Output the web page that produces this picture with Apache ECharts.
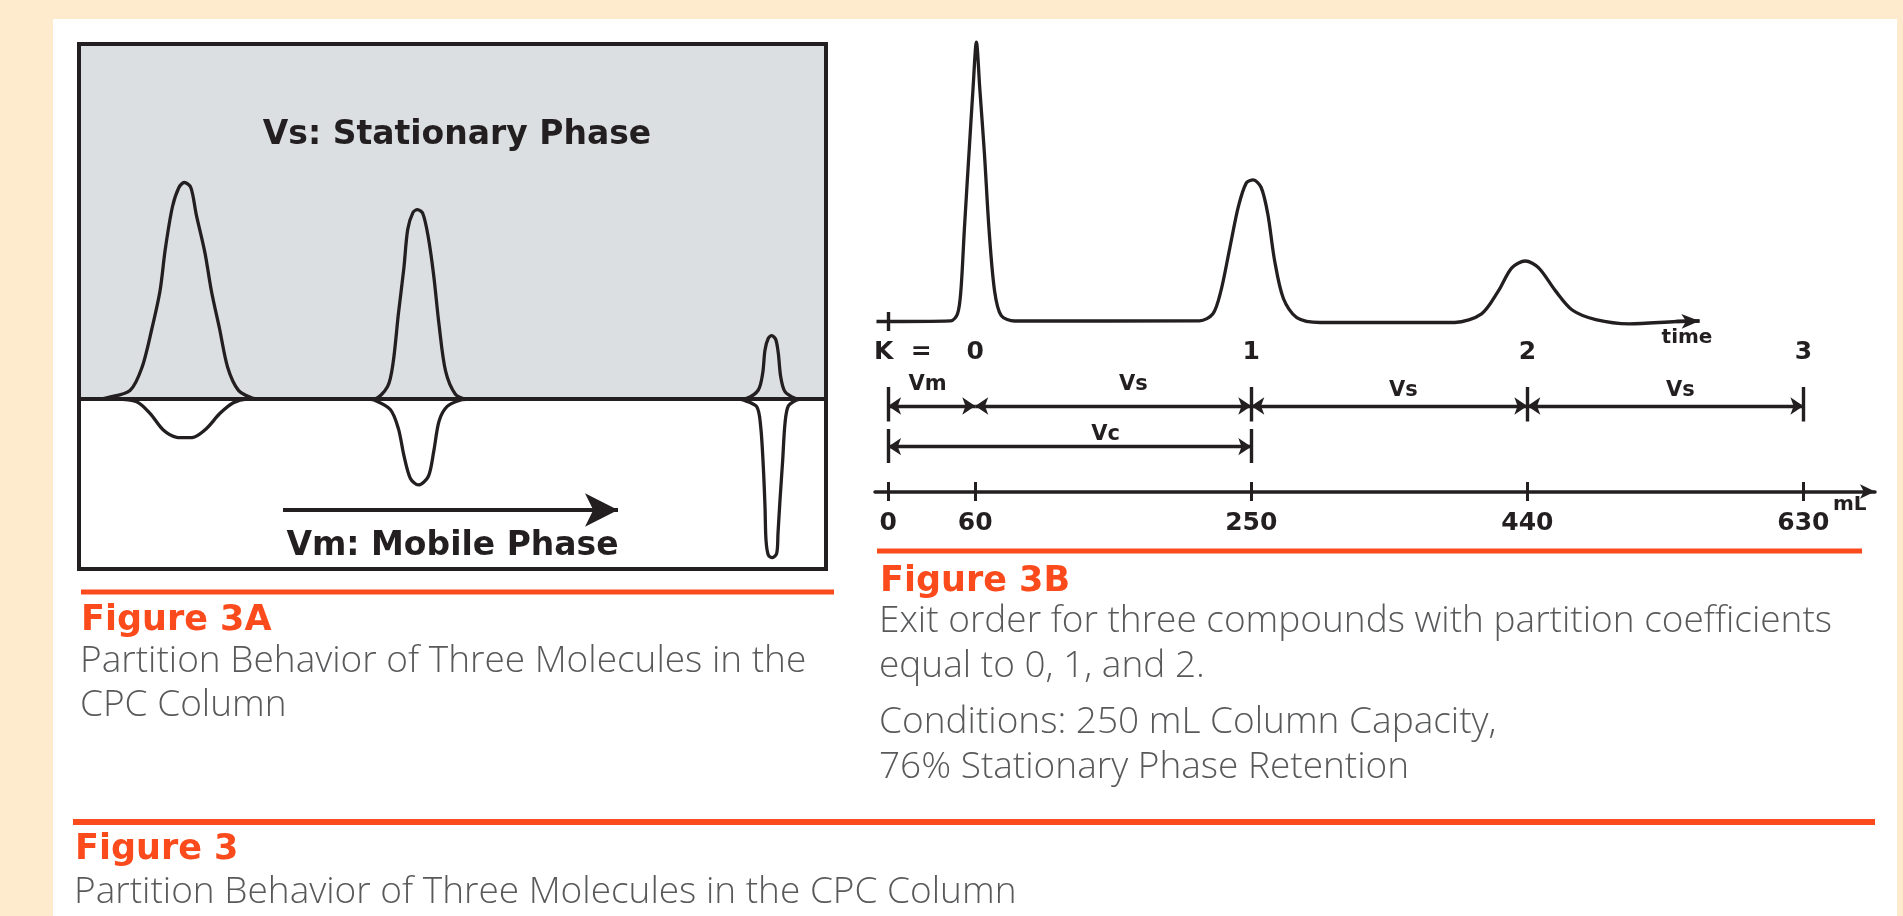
<!DOCTYPE html>
<html><head><meta charset="utf-8">
<script src="https://cdn.jsdelivr.net/npm/echarts@6/dist/echarts.min.js"></script>
<style>html,body{margin:0;padding:0;background:#feebcd;}#c{width:1903px;height:916px;}</style>
</head><body><div id="c"></div>
<script>
// ---------- Figure 3A: schematic peaks (x: position along column, y: relative amount; + stationary, - mobile) ----------
const peakA1Top = [[20,0],[26.7,1],[51,8.6],[63,31.6],[72.8,70],[81,108],[86.3,150],[93.4,192],[99.9,211.5],[105.3,216.5],[111.8,211.5],[117.2,184.7],[125.9,146.4],[132.4,108],[140.6,70],[148.7,31.6],[159.5,8.6],[173,1],[180,0]];
const peakA1Bottom = [[30,0],[37.7,0],[57.7,-2.7],[71,-14.3],[84.3,-31],[97.7,-38.3],[106,-38.7],[114.3,-38.3],[127.7,-29.3],[141,-14.3],[154.3,-3.7],[167.7,0],[175,0]];
const peakA2Top = [[288,0],[295,0],[308.6,12.5],[314,35.4],[319.4,85.2],[324.9,131.1],[328.7,169.4],[334,186.6],[338.4,189.3],[343.8,185.5],[349.3,161.7],[354.7,123.5],[360.1,73.7],[366.6,27.8],[376.4,4.8],[387.2,0],[395,0]];
const peakA2Bottom = [[288,0],[295,-1],[311.3,-10.5],[319.4,-29.6],[324.9,-56.4],[331.4,-79.4],[339.5,-85.9],[349.3,-77.5],[354.7,-52.6],[360.1,-22],[368.2,-7.4],[381.8,-1],[390,0]];
const peakA3Top = [[660,0],[667.7,0.7],[679.3,9],[683.7,25.7],[686,49],[689.3,60.7],[692.7,63.3],[696.7,59.7],[699.3,45.7],[701.7,22.3],[706,7.3],[716,0.7],[722,0]];
const peakA3Bottom = [[658,0],[664.3,-1],[677.7,-7.7],[681.7,-27.7],[684.3,-67.7],[686,-107.7],[687,-141],[689.3,-156],[693.3,-158.7],[697.7,-154.3],[699,-134.3],[701,-101],[703.7,-61],[706,-24.3],[709.3,-7],[717.7,-1],[724,0]];

// ---------- Figure 3B: chromatogram (x: volume in mL, y: detector signal) ----------
const chromatogram = [[-8,0],[43.2,0.7],[47.8,7.7],[50.1,30.6],[52.5,91.9],[55.7,168.4],[58.5,233.5],[60.8,279.4],[63.1,233.5],[66.3,168.4],[69.5,91.9],[73.3,30.6],[77.9,5.8],[87.1,0.5],
  [214.3,0.7],[223.6,7.7],[229.1,30.6],[235.1,72.7],[241.1,114.8],[246.6,138.6],[251.3,141.6],[256.8,134],[261.4,107.2],[266,61.3],[272.1,23],[281.3,3.9],[297.5,-1],
  [390,-1],[408.5,7.7],[420.1,30.6],[429.3,53.6],[438.6,60.5],[447.8,53.6],[459.4,30.6],[470.9,11.5],[487.1,1.9],[510.2,-2.3],[542.6,0],[558.5,0.5]];
const volumeTicks = [0, 60, 250, 440, 630];
const kLabels = ['0', '1', '2', '3'];
const kPositions = [60, 250, 440, 630];
const segmentLabels = ['Vm', 'Vs', 'Vs', 'Vs'];
const segmentBars = [0, 250, 440, 630];
const vcSpan = [0, 250];
const vcLabel = 'Vc';

// ---------- styles / layout ----------
const INK = '#231f20', ORANGE = '#fb4b1d', BODY = '#58595b', FILL = '#dcdfe2';
const ROW1 = -84.5, ROW2 = -125.2, BAR1 = [-65.5, -100], BAR2 = [-107.5, -141.5];
const segLabelStyle = [
  {pad:[0,8,0,0], dist:10.8}, {pad:[0,0,0,40], dist:10.8}, {pad:[0,0,0,28], dist:4.8}, {pad:[0,0,0,30], dist:4.8}
];
const vcLabelStyle = {pad:[0,0,0,72], dist:1.5};
const ARROW_A = {from:[204,-111], to:[539,-111]};

const dimArrow = {symbol:'arrow', symbolSize:[13,13]};
const lblFont = {color:INK, fontFamily:'DejaVu Sans', fontWeight:'bold', fontSize:21};

const mlData = [];
// start tick on chromatogram baseline
mlData.push([{coord:[0,9.5], symbol:'none'},{coord:[0,-9.5], symbol:'none'}]);
// dimension bars
segmentBars.forEach(v => mlData.push([{coord:[v,BAR1[0]], symbol:'none'},{coord:[v,BAR1[1]], symbol:'none'}]));
vcSpan.forEach(v => mlData.push([{coord:[v,BAR2[0]], symbol:'none'},{coord:[v,BAR2[1]], symbol:'none'}]));
// dimension arrows
for (let i = 0; i < segmentLabels.length; i++) {
  const st = segLabelStyle[i];
  const lab = Object.assign({show:true, position:'middle', formatter:segmentLabels[i], distance:st.dist, padding:st.pad}, lblFont);
  mlData.push([Object.assign({coord:[volumeTicks[i],ROW1], label:lab}, dimArrow), Object.assign({coord:[volumeTicks[i+1],ROW1], label:lab}, dimArrow)]);
}
{
  const lab = Object.assign({show:true, position:'middle', formatter:vcLabel, distance:vcLabelStyle.dist, padding:vcLabelStyle.pad}, lblFont);
  mlData.push([Object.assign({coord:[vcSpan[0],ROW2], label:lab}, dimArrow), Object.assign({coord:[vcSpan[1],ROW2], label:lab}, dimArrow)]);
}
// time arrow head
const cn = chromatogram.length;
mlData.push([{coord:chromatogram[cn-2], symbol:'none'},{coord:chromatogram[cn-1], symbol:'arrow', symbolSize:[11,18]}]);

function curve(data) {
  return {type:'line', xAxisIndex:0, yAxisIndex:0, data:data, symbol:'none', showSymbol:false, smooth:0.3,
    lineStyle:{color:INK, width:3.3}, silent:true, z:3};
}

const sA1 = curve(peakA1Top);
sA1.markArea = {silent:true, itemStyle:{color:FILL, opacity:1, borderWidth:0}, data:[[{coord:[0,0]},{coord:[747,355]}]]};
sA1.markLine = {silent:true, symbol:'none', animation:false, label:{show:false},
  lineStyle:{color:INK, width:4, type:'solid'},
  data:[
    [{coord:[0,0]},{coord:[747,0]}],
    [{coord:ARROW_A.from, symbol:'none'},{coord:ARROW_A.to, symbol:'arrow', symbolSize:[25,33]}]
  ]};

const textEl = (txt, x, y, o) => ({type:'text', x:x, y:y, silent:true, z:50,
  style:Object.assign({text:txt, fill:INK, fontFamily:'DejaVu Sans', fontSize:20, fontWeight:'normal',
    align:'left', textAlign:'left', verticalAlign:'middle', textVerticalAlign:'middle'}, o || {})});
const bodyFont = {fill:BODY, fontFamily:'"Open Sans"', fontWeight:300, fontSize:37};
const figFont = {fill:ORANGE, fontFamily:'"DejaVu Sans"', fontWeight:'bold', fontSize:35};
const phaseFont = {fontSize:33, fontWeight:'bold', align:'center', textAlign:'center'};

const option = {
  backgroundColor:'#feebcd',
  animation:false,
  grid:[
    {left:79, top:44, width:747, height:525, show:true, z:10, backgroundColor:'transparent', borderColor:INK, borderWidth:4},
    {left:875, top:31.5, width:1000, height:460, show:false}
  ],
  xAxis:[
    {gridIndex:0, type:'value', min:0, max:747, show:false},
    {gridIndex:1, type:'value', min:-9, max:679.3, position:'bottom',
      axisLine:{show:true, onZero:false, symbol:['none','arrow'], symbolSize:[11,15], lineStyle:{color:INK, width:3.5}},
      axisTick:{show:true, inside:false, length:9.5, customValues:volumeTicks, lineStyle:{color:INK, width:3}},
      axisLabel:{show:true, customValues:volumeTicks, margin:19, color:INK, fontFamily:'DejaVu Sans', fontWeight:'bold', fontSize:25},
      splitLine:{show:false}},
    {gridIndex:1, type:'value', min:-9, max:679.3, position:'bottom',
      axisLine:{show:false, onZero:false},
      axisTick:{show:true, inside:true, length:9.5, customValues:volumeTicks, lineStyle:{color:INK, width:3}},
      axisLabel:{show:false}, splitLine:{show:false}},
    {gridIndex:1, type:'value', min:-9, max:679.3, position:'bottom',
      axisLine:{show:false, onZero:false}, axisTick:{show:false},
      axisLabel:{show:true, inside:true, margin:127, customValues:kPositions,
        formatter:function(v){ const i = kPositions.indexOf(v); return i >= 0 ? kLabels[i] : ''; },
        color:INK, fontFamily:'DejaVu Sans', fontWeight:'bold', fontSize:25},
      splitLine:{show:false}}
  ],
  yAxis:[
    {gridIndex:0, type:'value', min:-170, max:355, show:false},
    {gridIndex:1, type:'value', min:-170, max:290, show:false}
  ],
  series:[
    sA1,
    curve(peakA1Bottom), curve(peakA2Top), curve(peakA2Bottom), curve(peakA3Top), curve(peakA3Bottom),
    {type:'line', xAxisIndex:1, yAxisIndex:1, data:chromatogram, symbol:'none', showSymbol:false, smooth:0.3,
      lineStyle:{color:INK, width:3.3}, silent:true, z:3,
      markLine:{silent:true, symbol:'none', animation:false, label:{show:false},
        lineStyle:{color:INK, width:3.4, type:'solid'}, data:mlData}}
  ],
  graphic:{elements:[
    {type:'rect', shape:{x:53, y:19, width:1844, height:900}, style:{fill:'#ffffff'}, z:-100, silent:true},
    {type:'rect', shape:{x:81, y:589.5, width:753, height:5}, style:{fill:ORANGE}, silent:true},
    {type:'rect', shape:{x:877, y:548.5, width:985, height:5}, style:{fill:ORANGE}, silent:true},
    {type:'rect', shape:{x:73, y:819, width:1802, height:6}, style:{fill:ORANGE}, silent:true},
    textEl('Vs: Stationary Phase', 457, 135, phaseFont),
    textEl('Vm: Mobile Phase', 452.5, 546, phaseFont),
    textEl('K  =', 874, 352.4, {fontSize:25, fontWeight:'bold'}),
    textEl('time', 1687, 338, {fontSize:20, fontWeight:'bold', align:'center', textAlign:'center'}),
    textEl('mL', 1833, 505, {fontSize:20, fontWeight:'bold'}),
    textEl('Figure 3A', 81, 621, figFont),
    textEl('Partition Behavior of Three Molecules in the', 80, 661, bodyFont),
    textEl('CPC Column', 80, 705, bodyFont),
    textEl('Figure 3B', 880, 582, figFont),
    textEl('Exit order for three compounds with partition coefficients', 879, 621, bodyFont),
    textEl('equal to 0, 1, and 2.', 879, 666, bodyFont),
    textEl('Conditions: 250 mL Column Capacity,', 879, 722.5, bodyFont),
    textEl('76% Stationary Phase Retention', 879, 767.5, bodyFont),
    textEl('Figure 3', 75, 849.6, figFont),
    textEl('Partition Behavior of Three Molecules in the CPC Column', 74, 892.5, bodyFont)
  ]}
};
const chart = echarts.init(document.getElementById('c'), null, {renderer:'canvas', width:1903, height:916});
chart.setOption(option);
</script></body></html>
